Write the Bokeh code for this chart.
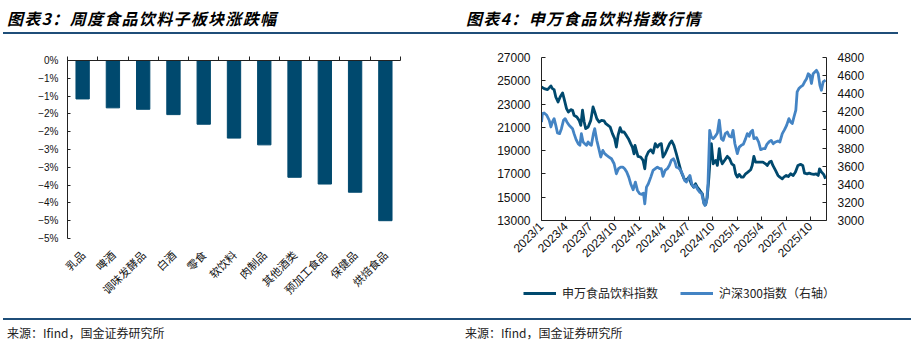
import math
from bokeh.plotting import figure
from bokeh.models import (Range1d, LinearAxis, FixedTicker, Div, Legend, LegendItem,
                          ColumnDataSource)
from bokeh.layouts import column, row
from bokeh.embed import file_html
from bokeh.resources import INLINE

# ---------------- data: left chart ----------------
categories = ["乳品", "啤酒", "调味发酵品", "白酒", "零食", "软饮料", "肉制品",
              "其他酒类", "预加工食品", "保健品", "烘焙食品"]
weekly_change = [-1.08, -1.33, -1.37, -1.52, -1.79, -2.18, -2.37, -3.28, -3.47, -3.70, -4.50]
pct_ticks = [0, -0.5, -1, -1.5, -2, -2.5, -3, -3.5, -4, -4.5, -5]
pct_tick_labels = ["0%", "−1%", "−1%", "−2%", "−2%", "−3%", "−3%", "−4%", "−4%", "−5%", "−5%"]

# ---------------- data: right chart (x = weeks since 2023/1) ----------------
weeks_sw = [0, 1.4, 3.2, 5.0, 5.8, 6.7, 7.6, 8.8, 9.9, 11.2, 12.0, 13.3, 14.3, 15.6, 16.5, 17.3,
            18.8, 20.0, 20.9, 21.8, 22.7, 23.5, 24.8, 26.2, 27.4, 28.3, 29.4, 30.6, 31.9, 33.3,
            34.2, 35.4, 36.5, 37.7, 38.9, 39.8, 40.7, 41.8, 42.7, 43.9, 45.1, 46.2, 47.4, 48.3,
            49.2, 49.7, 50.4, 51.3, 52.7, 54.0, 54.9, 55.6, 56.8, 58.1, 59.3, 60.5, 61.6, 62.7,
            63.7, 64.6, 65.7, 66.9, 68.1, 69.2, 70.4, 71.7, 73.1, 74.3, 75.8, 77.0, 78.4, 79.6,
            80.9, 81.9, 82.8, 84.2, 85.5, 86.4, 87.3, 88.1, 89.0, 89.9, 90.3, 91.3, 92.6, 93.5,
            94.5, 95.2, 96.1, 97.3, 98.8, 100.0, 101.1, 102.3, 103.2, 104.1, 105.1, 106.2, 107.3,
            108.5, 109.7, 111.2, 112.0, 112.9, 113.8, 115.0, 116.5, 117.7, 119.1, 120.0, 121.2,
            122.1, 123.0, 124.4, 125.7, 126.7, 128.0, 128.8, 130.1, 131.2, 132.4, 133.8, 135.0,
            136.3, 137.7, 138.9, 139.8, 141.2, 142.3, 143.4, 144.8, 146.0, 147.1, 147.8, 148.8,
            150.0, 151.0]
sw_food = [24470, 24330, 24240, 24560, 24330, 24240, 23610, 23180, 23610, 23960, 23470, 22610,
           22320, 22520, 22470, 22040, 21890, 21600, 21170, 22470, 21460, 20890, 21030, 21600,
           22750, 22320, 21750, 21460, 21600, 21550, 21320, 21170, 21030, 20460, 20030, 19310,
           20310, 20970, 20600, 20600, 20310, 20030, 19600, 19310, 18730, 19450, 19020, 18510,
           18450, 18160, 17440, 18450, 18880, 19080, 18790, 19600, 19310, 19540, 19600, 18450,
           18730, 19170, 19600, 19830, 19450, 18730, 17870, 17160, 16580, 16440, 16730, 16150,
           15860, 16150, 15860, 15580, 15290, 14430, 14370, 15000, 16730, 19020, 19600, 17870,
           18160, 17730, 19170, 18300, 17870, 18160, 18510, 18300, 17870, 17730, 17010, 16730,
           16960, 16730, 16730, 17010, 17160, 17360, 17730, 18510, 18020, 18020, 18020, 18020,
           17870, 17730, 18020, 18100, 17730, 17300, 16870, 16730, 16580, 16730, 16870, 16780,
           17010, 16870, 17160, 17730, 17820, 17730, 17070, 17010, 17070, 17010, 16960, 17010,
           16870, 17440, 17160, 16960, 16580]

weeks_hs = [0, 0.5, 1.4, 2.8, 4.1, 5.0, 5.8, 6.7, 7.6, 8.5, 9.6, 10.6, 11.7, 12.6, 13.5, 14.7,
            15.6, 16.5, 17.3, 18.4, 19.5, 20.4, 21.2, 22.1, 23.0, 23.9, 24.8, 25.7, 26.5, 27.6,
            28.3, 29.4, 30.6, 31.5, 32.6, 33.6, 34.7, 35.9, 37.2, 38.6, 39.8, 40.9, 42.1, 43.2,
            44.2, 45.3, 46.4, 47.4, 48.7, 49.9, 51.0, 52.2, 53.3, 54.2, 54.9, 55.8, 56.8, 58.1,
            59.3, 60.5, 61.6, 62.8, 63.7, 64.6, 65.7, 66.9, 68.0, 69.0, 70.1, 71.0, 71.7, 72.7,
            74.0, 75.2, 76.1, 77.0, 78.1, 78.9, 80.0, 81.1, 81.9, 82.8, 84.1, 85.1, 86.2, 86.9,
            87.8, 88.5, 89.4, 90.3, 91.3, 92.4, 93.5, 94.5, 95.6, 96.6, 97.7, 98.8, 99.8, 100.9,
            101.8, 102.8, 104.1, 105.1, 106.2, 107.3, 108.5, 109.4, 110.4, 111.2, 112.2, 112.9,
            114.3, 115.4, 116.5, 117.7, 118.8, 119.8, 120.9, 122.1, 123.2, 124.4, 125.7, 126.7,
            128.0, 129.2, 130.3, 131.5, 132.4, 133.3, 134.2, 135.2, 135.9, 136.8, 137.7, 138.9,
            139.8, 140.9, 141.8, 142.7, 143.5, 144.4, 145.3, 146.2, 147.1, 148.0, 148.8, 149.7,
            151.0]
hs300 = [4088, 4180, 4188, 4162, 4107, 4033, 4088, 4125, 4051, 3966, 3959, 4014, 4107, 4125,
         4088, 4051, 4033, 4014, 3959, 3893, 3848, 3830, 3959, 3867, 3848, 3830, 3867, 3841,
         3830, 3959, 4014, 3885, 3782, 3701, 3774, 3738, 3719, 3701, 3682, 3627, 3516, 3572,
         3590, 3590, 3572, 3535, 3479, 3406, 3339, 3424, 3332, 3295, 3288, 3302, 3184, 3369,
         3406, 3479, 3553, 3572, 3590, 3572, 3572, 3487, 3553, 3572, 3609, 3664, 3682, 3645,
         3590, 3583, 3553, 3498, 3442, 3424, 3461, 3498, 3398, 3369, 3387, 3350, 3313, 3302,
         3203, 3166, 3214, 3406, 3996, 3922, 3904, 3930, 3966, 4107, 3904, 3885, 3959, 3977,
         3930, 3922, 3996, 3848, 3738, 3811, 3830, 3841, 3904, 3959, 3930, 3977, 3996, 3904,
         3915, 3867, 3782, 3793, 3793, 3841, 3867, 3885, 3848, 3867, 3878, 3867, 3959, 4003,
         4051, 4125, 4088, 4070, 4143, 4218, 4420, 4457, 4475, 4492, 4529, 4566, 4621, 4603,
         4513, 4621, 4640, 4658, 4621, 4492, 4438, 4530, 4549]

series_names = ["申万食品饮料指数", "沪深300指数（右轴）"]
quarter_ticks = [0, 13, 26, 39, 52, 65, 78, 91, 104, 117, 130, 143]
quarter_labels = ["2023/1", "2023/4", "2023/7", "2023/10", "2024/1", "2024/4", "2024/7",
                  "2024/10", "2025/1", "2025/4", "2025/7", "2025/10"]
left_ticks = [13000, 15000, 17000, 19000, 21000, 23000, 25000, 27000]
right_ticks = [3000, 3200, 3400, 3600, 3800, 4000, 4200, 4400, 4600, 4800]

DARK = "#00496e"
LIGHT = "#4484c4"
AXIS = "#222222"
NUM_FONT = "Liberation Sans"
CJK_FONT = "Noto Sans CJK SC"


def no_frame_align(p):
    if "frame_align" in p.properties():
        p.frame_align = False


# ---------------- left figure ----------------
n = len(categories)
centers = [i + 0.5 for i in range(n)]
src = ColumnDataSource(dict(x=centers, v=weekly_change, name=categories))

p1 = figure(width=457, height=283, x_range=Range1d(0, n), y_range=Range1d(-5, 0),
            output_backend="svg", toolbar_location=None,
            x_axis_location=None, y_axis_location=None,
            min_border_left=67, min_border_right=57, min_border_top=25, min_border_bottom=80)
no_frame_align(p1)
p1.outline_line_color = None
p1.grid.visible = False
p1.vbar(x="x", top=0, bottom="v", width=0.44, source=src, fill_color=DARK, line_color=DARK)

yax = LinearAxis(ticker=FixedTicker(ticks=pct_ticks),
                 major_label_overrides={t: l for t, l in zip(pct_ticks, pct_tick_labels)})
yax.major_tick_in = 3
yax.major_tick_out = 0
yax.minor_tick_line_color = None
yax.axis_line_color = AXIS
yax.major_tick_line_color = AXIS
yax.major_label_standoff = 9
yax.major_label_text_font = NUM_FONT
yax.major_label_text_font_size = "10px"
yax.major_label_text_color = "#111111"
p1.add_layout(yax, "left")

topax = LinearAxis(ticker=FixedTicker(ticks=list(range(n + 1))),
                   major_label_overrides={i: "" for i in range(n + 1)})
topax.major_tick_in = 0
topax.major_tick_out = 4
topax.minor_tick_line_color = None
topax.axis_line_color = AXIS
topax.major_tick_line_color = AXIS
topax.major_label_standoff = 0
topax.major_label_text_font_size = "1px"
p1.add_layout(topax, "above")

xax = LinearAxis(ticker=FixedTicker(ticks=centers),
                 major_label_overrides={c: nm for c, nm in zip(centers, categories)})
xax.axis_line_color = None
xax.major_tick_line_color = None
xax.minor_tick_line_color = None
xax.major_label_orientation = math.pi / 4
xax.major_label_standoff = 8
xax.major_label_text_font = CJK_FONT
xax.major_label_text_font_size = "11px"
xax.major_label_text_color = "#111111"
p1.add_layout(xax, "below")

# ---------------- right figure ----------------
p2 = figure(width=457, height=245, x_range=Range1d(0, 151.5), y_range=Range1d(13000, 27000),
            output_backend="svg", toolbar_location=None,
            x_axis_location=None, y_axis_location=None,
            min_border_left=84, min_border_right=88, min_border_top=22, min_border_bottom=60)
no_frame_align(p2)
p2.extra_y_ranges = {"hs": Range1d(3000, 4800)}
p2.outline_line_color = None
p2.grid.visible = False

r_sw = p2.line(weeks_sw, sw_food, line_color=DARK, line_width=2.8, line_join="round")
r_hs = p2.line(weeks_hs, hs300, y_range_name="hs", line_color=LIGHT, line_width=2.8,
               line_join="round")


def style_num_axis(ax):
    ax.major_tick_in = 4
    ax.major_tick_out = 0
    ax.minor_tick_line_color = None
    ax.axis_line_color = AXIS
    ax.major_tick_line_color = AXIS
    ax.major_label_text_font = NUM_FONT
    ax.major_label_text_font_size = "12px"
    ax.major_label_text_color = "#111111"


ly = LinearAxis(ticker=FixedTicker(ticks=left_ticks))
style_num_axis(ly)
ly.major_label_standoff = 11
p2.add_layout(ly, "left")

ry = LinearAxis(y_range_name="hs", ticker=FixedTicker(ticks=right_ticks))
style_num_axis(ry)
ry.major_label_standoff = 11
p2.add_layout(ry, "right")

bx = LinearAxis(ticker=FixedTicker(ticks=quarter_ticks),
                major_label_overrides={t: l for t, l in zip(quarter_ticks, quarter_labels)})
style_num_axis(bx)
bx.major_label_orientation = math.pi / 4
bx.major_label_standoff = 4
p2.add_layout(bx, "below")

# ---------------- legend strip under the right chart ----------------
p3 = figure(width=457, height=38, x_range=Range1d(0, 1), y_range=Range1d(0, 1),
            output_backend="svg", toolbar_location=None,
            x_axis_location=None, y_axis_location=None,
            min_border_left=0, min_border_right=0, min_border_top=0, min_border_bottom=0)
no_frame_align(p3)
p3.outline_line_color = None
p3.grid.visible = False
# key renderers: one point of each series (a single point draws no line; it only feeds the key)
k_sw = p3.line(x=weeks_sw[:1], y=sw_food[:1], line_color=DARK, line_width=2.8)
k_hs = p3.line(x=weeks_hs[:1], y=hs300[:1], line_color=LIGHT, line_width=2.8)
legend = Legend(items=[LegendItem(label=series_names[0], renderers=[k_sw]),
                       LegendItem(label=series_names[1], renderers=[k_hs])],
                orientation="horizontal", location=(66, 17),
                glyph_width=33, glyph_height=14, label_standoff=6, spacing=22,
                padding=2, margin=0, border_line_color=None, background_fill_alpha=0,
                label_text_font=CJK_FONT, label_text_font_size="12px",
                label_text_color="#222222")
p3.add_layout(legend)

# ---------------- titles and sources ----------------
title_html = (
    '<div style="position:relative;width:914px;height:35px;font-family:\'Noto Sans CJK SC\';'
    'color:#000;">'
    '<div style="position:absolute;left:7px;top:7px;font-size:16px;font-weight:bold;'
    'font-style:italic;letter-spacing:1.3px;line-height:22px;white-space:nowrap;">'
    '图表3：周度食品饮料子板块涨跌幅</div>'
    '<div style="position:absolute;left:466px;top:7px;font-size:16px;font-weight:bold;'
    'font-style:italic;letter-spacing:1.3px;line-height:22px;white-space:nowrap;">'
    '图表4：申万食品饮料指数行情</div>'
    '<div style="position:absolute;left:3px;top:32px;width:895px;height:2px;'
    'background:#1f4e79;"></div></div>'
)
source_html = (
    '<div style="position:relative;width:914px;height:34px;font-family:\'Noto Sans CJK SC\';'
    'color:#222;">'
    '<div style="position:absolute;left:3px;top:0px;width:908px;height:2px;'
    'background:#1f4e79;"></div>'
    '<div style="position:absolute;left:7px;top:7px;font-size:12px;line-height:16px;'
    'white-space:nowrap;">来源：Ifind，国金证券研究所</div>'
    '<div style="position:absolute;left:465px;top:7px;font-size:12px;line-height:16px;'
    'white-space:nowrap;">来源：Ifind，国金证券研究所</div></div>'
)
title_div = Div(text=title_html, width=914, height=35, margin=0)
source_div = Div(text=source_html, width=914, height=34, margin=0)

layout = column(title_div,
                row(p1, column(p2, p3, spacing=0), spacing=0),
                source_div, spacing=0)

open("out.html", "w").write(file_html(layout, INLINE))
